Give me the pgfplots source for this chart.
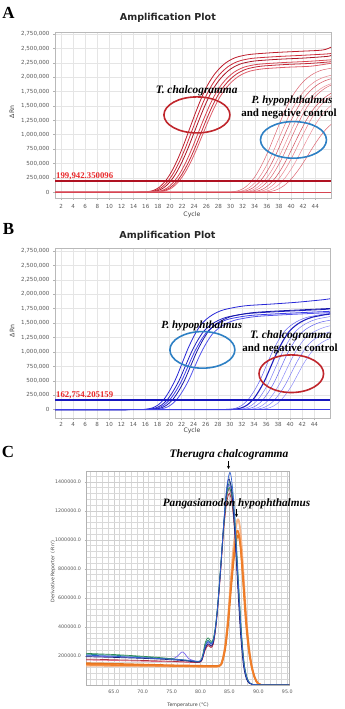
\documentclass[border=0pt]{standalone}
\usepackage{fontspec}
\usepackage{pgfplots}
\pgfplotsset{compat=1.18}
\usetikzlibrary{arrows.meta}
\setmainfont{Liberation Serif}
\newfontfamily\djv{DejaVu Sans}

% curve colours
\definecolor{ra1}{RGB}{190,30,45}
\definecolor{ra2}{RGB}{205,45,60}
\definecolor{ra3}{RGB}{172,22,38}
\definecolor{ra4}{RGB}{215,70,82}
\definecolor{ra5}{RGB}{195,40,55}
\definecolor{ra6}{RGB}{222,92,104}
\definecolor{rl1}{RGB}{220,100,112}
\definecolor{rl2}{RGB}{232,128,138}
\definecolor{rl3}{RGB}{210,78,92}
\definecolor{rl4}{RGB}{236,142,152}
\definecolor{thrA}{RGB}{176,18,34}
\definecolor{bb1}{RGB}{40,40,215}
\definecolor{bb2}{RGB}{30,30,190}
\definecolor{bb3}{RGB}{62,62,232}
\definecolor{bb4}{RGB}{22,22,168}
\definecolor{bb5}{RGB}{82,82,236}
\definecolor{bl1}{RGB}{100,100,240}
\definecolor{bl2}{RGB}{120,120,246}
\definecolor{bl3}{RGB}{140,140,249}
\definecolor{thrB}{RGB}{24,24,190}
\definecolor{ellR}{RGB}{192,38,44}
\definecolor{ellB}{RGB}{46,128,196}
\definecolor{labR}{RGB}{232,40,42}
\definecolor{mBlue}{RGB}{48,96,210}
\definecolor{mNavy}{RGB}{26,35,126}
\definecolor{mGreen}{RGB}{46,139,87}
\definecolor{mTeal}{RGB}{42,140,140}
\definecolor{mRed}{RGB}{176,48,64}
\definecolor{mPurple}{RGB}{123,104,238}
\definecolor{mPink}{RGB}{224,112,144}
\definecolor{mOr1}{RGB}{240,127,42}
\definecolor{mOr2}{RGB}{232,115,28}
\definecolor{mOr3}{RGB}{246,181,138}

\pgfplotsset{
  ampl/.style={
    scale only axis, xmin=1, xmax=46.6,
    xtick={2,4,...,44}, ytick={0,250,...,2750},
    yticklabels={0,{250,000},{500,000},{750,000},{1,000,000},{1,250,000},{1,500,000},{1,750,000},{2,000,000},{2,250,000},{2,500,000},{2,750,000}},
    grid=major, major grid style={draw=gray!20, line width=0.4bp},
    axis line style={draw=gray!55, line width=0.5bp},
    tick style={draw=gray!60, line width=0.4bp},
    tick align=outside, major tick length=2bp,
    xtick pos=lower, ytick pos=left,
    /pgf/number format/assume math mode=true,
    tick label style={font=\djv\fontsize{5.6}{6}\selectfont, text=black!65},
    label style={font=\djv\fontsize{6.2}{7}\selectfont, text=black!75},
    title style={font=\djv\bfseries\fontsize{9.6}{11}\selectfont, text=black!85},
    every axis plot/.append style={smooth, line join=round},
    xlabel={Cycle}, ylabel={ΔRn}, title={Amplification Plot},
  },
  early/.style={line width=0.8bp},
  late/.style={line width=0.5bp},
}

\begin{document}
\begin{tikzpicture}[x=1bp,y=1bp]
\useasboundingbox (0,0) rectangle (344,709);

% ---------------- A: amplification, T. chalcogramma primers ----------------
\begin{axis}[ampl, width=276bp, height=165.5bp, at={(55bp,511bp)}, anchor=south west,
  ymin=-100, ymax=2775,
  title style={at={(axis description cs:0.409,1)}, anchor=center, yshift=8.5bp},
  xlabel style={at={(axis description cs:0.496,0)}, anchor=center, yshift=-17bp},
  ylabel style={at={(axis description cs:-0.156,0.52)}, anchor=center},
  xticklabel style={yshift=-1bp}]
% early amplification (T. chalcogramma)
\addplot[ra1, early] coordinates {(1,0)(10,0)(15.2,2)(16.2,8)(17.2,29)(18.2,84)(19.2,189)(20.2,347)(21.2,557)(22.2,809)(23.2,1092)(24.2,1376)(25.2,1638)(26.2,1859)(27.2,2027)(28.2,2153)(29.2,2247)(30.2,2310)(31.2,2352)(33.2,2394)(37.2,2426)(41.2,2447)(45.2,2470)(46.6,2520)};
\addplot[ra2, early] coordinates {(1,0)(10,0)(15.6,2)(16.6,8)(17.6,29)(18.6,82)(19.6,184)(20.6,337)(21.6,541)(22.6,785)(23.6,1061)(24.6,1336)(25.6,1591)(26.6,1805)(27.6,1969)(28.6,2091)(29.6,2183)(30.6,2244)(31.6,2285)(33.6,2326)(37.6,2356)(41.6,2377)(45.6,2400)(46.6,2410)};
\addplot[ra3, early] coordinates {(1,0)(10,0)(16,2)(17,8)(18,28)(19,80)(20,180)(21,330)(22,530)(23,770)(24,1040)(25,1310)(26,1560)(27,1770)(28,1930)(29,2050)(30,2140)(31,2200)(32,2240)(34,2280)(38,2310)(42,2330)(46,2360)(46.6,2380)};
\addplot[ra4, early] coordinates {(1,0)(10,0)(16.6,2)(17.6,8)(18.6,27)(19.6,78)(20.6,176)(21.6,322)(22.6,517)(23.6,751)(24.6,1014)(25.6,1277)(26.6,1521)(27.6,1726)(28.6,1882)(29.6,1999)(30.6,2087)(31.6,2145)(32.6,2184)(34.6,2223)(38.6,2252)(42.6,2272)(46.6,2300)};
\addplot[ra5, early] coordinates {(1,0)(10,0)(17,2)(18,8)(19,27)(20,77)(21,173)(22,317)(23,509)(24,739)(25,998)(26,1258)(27,1498)(28,1699)(29,1853)(30,1968)(31,2054)(32,2112)(33,2150)(35,2189)(39,2218)(43,2237)(46.6,2266)};
\addplot[ra6, early] coordinates {(1,0)(10,0)(17.3,2)(18.3,8)(19.3,26)(20.3,75)(21.3,169)(22.3,310)(23.3,498)(24.3,724)(25.3,978)(26.3,1231)(27.3,1466)(28.3,1664)(29.3,1814)(30.3,1927)(31.3,2012)(32.3,2068)(33.3,2106)(35.3,2143)(39.3,2171)(43.3,2190)(46.6,2240)};
% late amplification (P. hypophthalmus, negative control)
\addplot[rl1, late] coordinates {(1,0)(24,0)(29.3,2)(30.3,8)(31.3,27)(32.3,76)(33.3,171)(34.3,314)(35.3,504)(36.3,732)(37.3,988)(38.3,1245)(39.3,1482)(40.3,1682)(41.3,1834)(42.3,1948)(43.3,2033)(44.3,2090)(45.3,2128)(46.3,2147)(47.3,2166)};
\addplot[rl2, late] coordinates {(1,0)(25,0)(30,2)(31,7)(32,25)(33,72)(34,162)(35,297)(36,477)(37,693)(38,936)(39,1179)(40,1404)(41,1593)(42,1737)(43,1845)(44,1926)(45,1980)(46,2016)(47,2040)};
\addplot[rl3, late] coordinates {(1,0)(25,0)(30.6,2)(31.6,7)(32.6,25)(33.6,70)(34.6,158)(35.6,290)(36.6,466)(37.6,678)(38.6,915)(39.6,1153)(40.6,1373)(41.6,1558)(42.6,1698)(43.6,1804)(44.6,1883)(45.6,1936)(46.6,1971)};
\addplot[rl4, late] coordinates {(1,0)(26,0)(31.2,2)(32.2,7)(33.2,24)(34.2,68)(35.2,153)(36.2,281)(37.2,451)(38.2,655)(39.2,884)(40.2,1114)(41.2,1326)(42.2,1505)(43.2,1641)(44.2,1743)(45.2,1819)(46.2,1870)(47.2,1904)};
\addplot[rl1, late] coordinates {(1,0)(26,0)(31.8,2)(32.8,7)(33.8,24)(34.8,68)(35.8,153)(36.8,281)(37.8,451)(38.8,655)(39.8,884)(40.8,1114)(41.8,1326)(42.8,1505)(43.8,1641)(44.8,1743)(45.8,1819)(46.8,1870)};
\addplot[rl3, late] coordinates {(1,0)(27,0)(32.5,2)(33.5,6)(34.5,22)(35.5,64)(36.5,144)(37.5,264)(38.5,424)(39.5,616)(40.5,832)(41.5,1048)(42.5,1248)(43.5,1416)(44.5,1544)(45.5,1640)(46.5,1712)(47.5,1760)};
\addplot[rl2, late] coordinates {(1,0)(28,0)(33.2,2)(34.2,6)(35.2,22)(36.2,64)(37.2,144)(38.2,264)(39.2,424)(40.2,616)(41.2,832)(42.2,1048)(43.2,1248)(44.2,1416)(45.2,1544)(46.2,1640)(47.2,1712)};
\addplot[rl4, late] coordinates {(1,0)(29,0)(34,2)(35,6)(36,21)(37,60)(38,135)(39,248)(40,398)(41,578)(42,780)(43,983)(44,1170)(45,1328)(46,1448)(47,1538)};
\addplot[rl1, late] coordinates {(1,0)(29,0)(34.8,2)(35.8,5)(36.8,17)(37.8,50)(38.8,112)(39.8,205)(40.8,329)(41.8,477)(42.8,645)(43.8,812)(44.8,967)(45.8,1097)(46.8,1196)};
\addplot[ra4, late] coordinates {(1,0)(46.6,0)};
% threshold
\addplot[thrA, line width=1.8bp, sharp plot] coordinates {(1,199.942350096)(46.6,199.942350096)};
\draw[ellR, line width=1.6bp] (axis cs:24.45,1343) ellipse [x radius=33bp, y radius=18bp];
\draw[ellB, line width=1.6bp] (axis cs:40.4,909) ellipse [x radius=33bp, y radius=18.3bp];
\end{axis}

% ---------------- B: amplification, P. hypophthalmus primers ----------------
\begin{axis}[ampl, width=275bp, height=170.3bp, at={(55bp,290.7bp)}, anchor=south west,
  ymin=-150, ymax=2800,
  title style={at={(axis description cs:0.409,1)}, anchor=center, yshift=6.3bp},
  xlabel style={at={(axis description cs:0.498,0)}, anchor=center, yshift=-12.4bp},
  ylabel style={at={(axis description cs:-0.156,0.513)}, anchor=center},
  xticklabel style={yshift=1bp}]
% early amplification (P. hypophthalmus)
\addplot[bb1, early] coordinates {(1,0)(10,0)(15.1,2)(16.1,9)(17.1,28)(18.1,81)(19.1,184)(20.1,346)(21.1,551)(22.1,810)(23.1,1069)(24.1,1285)(25.1,1458)(26.1,1566)(27.1,1642)(28.1,1696)(29.1,1733)(31.1,1777)(33.1,1804)(37.1,1830)(41.1,1860)(45.1,1900)(46.6,1920)};
\addplot[bb2, early] coordinates {(1,0)(10,0)(15.6,2)(16.6,8)(17.6,26)(18.6,75)(19.6,170)(20.6,320)(21.6,510)(22.6,750)(23.6,990)(24.6,1190)(25.6,1350)(26.6,1450)(27.6,1520)(28.6,1570)(29.6,1605)(31.6,1645)(33.6,1670)(37.6,1695)(41.6,1715)(45.6,1735)(46.6,1745)};
\addplot[bb3, early] coordinates {(1,0)(10,0)(16,2)(17,8)(18,25)(19,74)(20,167)(21,314)(22,500)(23,735)(24,970)(25,1166)(26,1323)(27,1421)(28,1490)(29,1539)(30,1573)(32,1612)(34,1637)(38,1661)(42,1681)(46,1700)(46.6,1705)};
\addplot[bb4, early] coordinates {(1,0)(10,0)(16.5,2)(17.5,8)(18.5,26)(19.5,76)(20.5,172)(21.5,323)(22.5,515)(23.5,758)(24.5,1000)(25.5,1202)(26.5,1364)(27.5,1465)(28.5,1535)(29.5,1586)(30.5,1621)(32.5,1661)(34.5,1687)(38.5,1712)(42.5,1732)(46.5,1752)(46.6,1754)};
\addplot[bb5, early] coordinates {(1,0)(10,0)(17.1,2)(18.1,8)(19.1,25)(20.1,73)(21.1,165)(22.1,310)(23.1,495)(24.1,728)(25.1,960)(26.1,1154)(27.1,1310)(28.1,1407)(29.1,1474)(30.1,1523)(31.1,1557)(33.1,1596)(35.1,1620)(39.1,1644)(43.1,1664)(47.1,1683)};
% late amplification (T. chalcogramma, negative control)
\addplot[bl1, late] coordinates {(1,0)(24,0)(29,2)(30,8)(31,26)(32,75)(33,170)(34,320)(35,510)(36,750)(37,990)(38,1190)(39,1350)(40,1450)(41,1520)(42,1570)(43,1605)(44,1625)(45,1645)(46,1658)(47,1670)};
\addplot[bb2, line width=1.1bp] coordinates {(1,0)(25,0)(29.8,2)(30.8,8)(31.8,26)(32.8,75)(33.8,170)(34.8,320)(35.8,510)(36.8,750)(37.8,990)(38.8,1190)(39.8,1350)(40.8,1450)(41.8,1520)(42.8,1570)(43.8,1605)(44.8,1625)(45.8,1645)(46.8,1658)};
\addplot[bl2, late] coordinates {(1,0)(25,0)(30.6,2)(31.6,8)(32.6,25)(33.6,74)(34.6,167)(35.6,314)(36.6,500)(37.6,735)(38.6,970)(39.6,1166)(40.6,1323)(41.6,1421)(42.6,1490)(43.6,1539)(44.6,1573)(45.6,1593)(46.6,1612)};
\addplot[bl1, late] coordinates {(1,0)(26,0)(31.4,2)(32.4,8)(33.4,25)(34.4,71)(35.4,162)(36.4,304)(37.4,485)(38.4,713)(39.4,941)(40.4,1131)(41.4,1283)(42.4,1378)(43.4,1444)(44.4,1492)(45.4,1525)(46.4,1544)(47.4,1563)};
\addplot[bl3, late] coordinates {(1,0)(27,0)(32.3,2)(33.3,7)(34.3,23)(35.3,68)(36.3,153)(37.3,288)(38.3,459)(39.3,675)(40.3,891)(41.3,1071)(42.3,1215)(43.3,1305)(44.3,1368)(45.3,1413)(46.3,1445)(47.3,1470)};
\addplot[bl2, late] coordinates {(1,0)(28,0)(33.2,2)(34.2,7)(35.2,22)(36.2,64)(37.2,145)(38.2,272)(39.2,434)(40.2,638)(41.2,842)(42.2,1012)(43.2,1148)(44.2,1233)(45.2,1292)(46.2,1335)(47.2,1360)};
\addplot[bl3, late] coordinates {(1,0)(29,0)(34.2,2)(35.2,6)(36.2,21)(37.2,60)(38.2,136)(39.2,256)(40.2,408)(41.2,600)(42.2,792)(43.2,952)(44.2,1080)(45.2,1160)(46.2,1216)(47.2,1250)};
\addplot[bb3, late] coordinates {(1,0)(46.6,0)};
% threshold
\addplot[thrB, line width=1.6bp, sharp plot] coordinates {(1,162.754205159)(46.6,162.754205159)};
\draw[ellB, line width=1.6bp] (axis cs:25.44,1035) ellipse [x radius=32.5bp, y radius=18.3bp];
\draw[ellR, line width=1.6bp] (axis cs:40.18,622) ellipse [x radius=32.3bp, y radius=18.8bp];
\end{axis}

% ---------------- C: melt curves ----------------
\begin{axis}[scale only axis, width=203.3bp, height=213.3bp, at={(86bp,24bp)}, anchor=south west,
  xmin=60.2, xmax=95.35, ymin=0, ymax=1469,
  xtick={65,70,...,95}, xticklabels={65.0,70.0,75.0,80.0,85.0,90.0,95.0},
  minor xtick={61,62,...,95},
  ytick={200,400,...,1400},
  yticklabels={200000.0,400000.0,600000.0,800000.0,1000000.0,1200000.0,1400000.0},
  minor ytick={40,80,...,1440},
  grid=both, major grid style={draw=gray!38, line width=0.35bp},
  minor grid style={draw=gray!30, line width=0.3bp},
  axis line style={draw=gray!60, line width=0.5bp},
  tick style={draw=gray!60, line width=0.3bp},
  tick align=outside, major tick length=1.5bp, minor tick length=0bp,
  xtick pos=lower, ytick pos=left,
  tick label style={font=\djv\fontsize{4.8}{5}\selectfont, text=black!65},
  label style={font=\djv\fontsize{4.8}{5}\selectfont, text=black!75},
  xlabel={Temperature (°C)}, ylabel={Derivative Reporter (-Rn')},
  xlabel style={at={(axis description cs:0.502,0)}, anchor=center, yshift=-20bp},
  ylabel style={at={(axis description cs:-0.162,0.532)}, anchor=center},
  every axis plot/.append style={smooth, line join=round, line width=0.7bp}]
\addplot[mOr3, line width=1.8bp] coordinates {(60.2,133)(63,132)(66,131)(69,130)(72,129)(75,128)(78,127)(81,126)(83.2,128)(83.7,160)(84.2,255)(84.7,440)(85.2,700)(85.7,950)(86.4,1140)(86.9,1060)(87.4,780)(87.9,470)(88.4,255)(88.9,125)(89.4,50)(89.9,12)(90.4,2)(91,0)(95.35,0)};
\addplot[mOr2, line width=1.6bp] coordinates {(60.2,150)(63,148)(66,145)(69,142)(72,139)(75,136)(78,134)(81,132)(83.3,134)(83.8,165)(84.3,255)(84.8,430)(85.3,670)(85.8,880)(86.4,1030)(86.9,960)(87.4,720)(87.9,440)(88.4,240)(88.9,120)(89.4,50)(89.9,12)(90.4,2)(91,0)(95.35,0)};
\addplot[mOr1, line width=1.6bp] coordinates {(60.2,140)(63,139)(66,137)(69,135)(72,133)(75,131)(78,129)(81,127)(83.2,130)(83.7,160)(84.2,250)(84.7,420)(85.2,660)(85.7,880)(86.3,1060)(86.8,1000)(87.3,740)(87.8,450)(88.3,250)(88.8,130)(89.3,55)(89.8,15)(90.3,3)(91,0)(95.35,0)};
\addplot[mPink] coordinates {(60.2,172)(63,170)(66,168)(69,165)(72,162)(75,160)(78,156)(79.5,154)(80.2,166)(80.8,245)(81.3,280)(81.8,265)(82.2,285)(82.6,385)(83,545)(83.5,800)(84,1080)(84.5,1280)(85,1350)(85.5,1260)(86,1020)(86.5,680)(87,355)(87.5,142)(88,46)(88.5,12)(89,3)(90,0)(95.35,0)};
\addplot[mRed] coordinates {(60.2,178)(63,176)(66,173)(69,170)(72,167)(75,163)(78,158)(79.5,155)(80.2,168)(80.8,240)(81.3,272)(81.8,258)(82.2,280)(82.6,380)(83,540)(83.5,790)(84,1060)(84.5,1250)(85,1320)(85.5,1230)(86,1000)(86.5,670)(87,350)(87.5,140)(88,45)(88.5,12)(89,3)(90,0)(95.35,0)};
\addplot[mPurple] coordinates {(60.2,200)(63,197)(66,193)(69,188)(72,184)(74,181)(75.5,185)(76.3,210)(76.8,228)(77.3,215)(78,180)(79.5,162)(80.2,176)(80.8,262)(81.3,298)(81.8,280)(82.2,300)(82.6,398)(83,555)(83.5,815)(84,1100)(84.5,1310)(85,1380)(85.5,1290)(86,1050)(86.5,700)(87,365)(87.5,145)(88,48)(88.5,13)(89,3)(90,0)(95.35,0)};
\addplot[mTeal] coordinates {(60.2,212)(63,208)(66,203)(69,196)(72,188)(75,180)(78,168)(79.5,161)(80.2,175)(80.8,275)(81.3,310)(81.8,290)(82.2,310)(82.6,405)(83,565)(83.5,825)(84,1100)(84.5,1320)(85.1,1400)(85.6,1300)(86.1,1050)(86.6,690)(87.1,350)(87.6,130)(88.1,40)(88.6,10)(89.2,2)(90,0)(95.35,0)};
\addplot[mGreen] coordinates {(60.2,218)(62,215)(65,210)(68,203)(71,195)(74,185)(77,172)(79.5,160)(80.2,180)(80.8,290)(81.3,325)(81.8,300)(82.2,318)(82.6,410)(83,570)(83.5,830)(84,1090)(84.5,1290)(85,1360)(85.5,1270)(86,1050)(86.5,720)(87,390)(87.5,160)(88,55)(88.5,15)(89,4)(90,0)(95.35,0)};
\addplot[mNavy] coordinates {(60.2,195)(62,193)(65,190)(68,186)(71,182)(74,176)(77,168)(79.5,158)(80.2,170)(80.8,250)(81.3,285)(81.8,268)(82.2,290)(82.6,390)(83,550)(83.5,810)(84,1100)(84.5,1330)(84.9,1420)(85.4,1330)(85.9,1060)(86.4,700)(86.9,360)(87.4,140)(87.9,45)(88.4,12)(89,3)(90,0)(95.35,0)};
\addplot[mBlue] coordinates {(60.2,205)(62,203)(64,200)(66,196)(68,192)(70,188)(72,184)(74,180)(76,176)(78,170)(79.5,163)(80.2,178)(80.8,265)(81.3,300)(81.8,282)(82.2,305)(82.6,400)(83,560)(83.5,820)(84,1110)(84.5,1350)(85.1,1465)(85.6,1330)(86,1080)(86.5,720)(87,380)(87.5,150)(88,50)(88.5,15)(89,4)(90,1)(95.35,0)};
\end{axis}

% panel letters
\node[font=\bfseries\fontsize{17}{17}\selectfont] at (8.5,696.5) {A};
\node[font=\bfseries\fontsize{17}{17}\selectfont] at (8.5,480) {B};
\node[font=\bfseries\fontsize{17}{17}\selectfont] at (8,257.3) {C};

% annotations, panel A
\node[font=\bfseries\itshape\fontsize{11.4}{12}\selectfont] at (196.7,618.5) {T.\ chalcogramma};
\node[font=\bfseries\itshape\fontsize{11}{12}\selectfont] at (292,608) {P.\ hypophthalmus};
\node[font=\bfseries\fontsize{11}{12}\selectfont] at (289,595) {and negative control};
\node[font=\bfseries\fontsize{8.8}{9}\selectfont, text=labR, anchor=south west, inner sep=0pt] at (56,528.8) {199,942.350096};

% annotations, panel B
\node[font=\bfseries\itshape\fontsize{11}{12}\selectfont] at (201.7,383) {P.\ hypophthalmus};
\node[font=\bfseries\itshape\fontsize{11.4}{12}\selectfont] at (291,373) {T.\ chalcogramma};
\node[font=\bfseries\fontsize{11}{12}\selectfont] at (290,360) {and negative control};
\node[font=\bfseries\fontsize{8.8}{9}\selectfont, text=labR, anchor=south west, inner sep=0pt] at (56,310) {162,754.205159};

% annotations, panel C
\node[font=\bfseries\itshape\fontsize{11.5}{12}\selectfont] at (229,254) {Therugra chalcogramma};
\draw[-{Stealth[length=3bp,width=3bp]}, line width=0.8bp] (228.5,247.5) -- (228.5,240);
\node[font=\bfseries\itshape\fontsize{11.3}{12}\selectfont] at (236.5,205.5) {Pangasianodon hypophthalmus};
\draw[-{Stealth[length=3bp,width=3bp]}, line width=0.8bp] (236.5,199.5) -- (236.5,192);
\end{tikzpicture}
\end{document}
